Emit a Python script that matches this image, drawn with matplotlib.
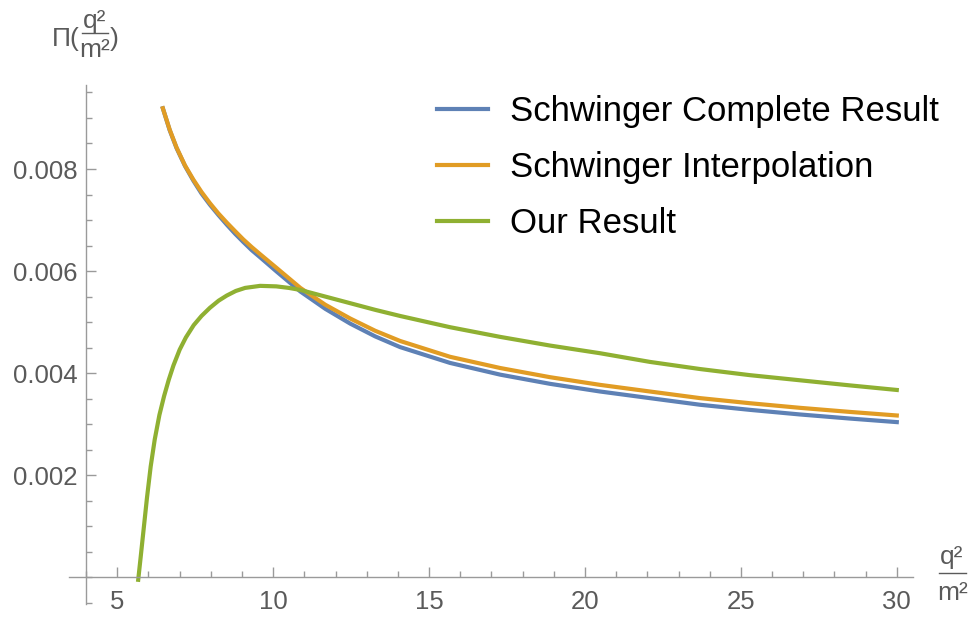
"""
Vacuum polarisation Pi(q^2/m^2): Schwinger complete result, Schwinger
interpolation and our result, drawn Mathematica-style (axes through origin).
"""

import matplotlib

matplotlib.use("Agg")

import matplotlib.pyplot as plt
from matplotlib.lines import Line2D
from matplotlib.ticker import MultipleLocator

plt.rcParams["font.family"] = ["Liberation Sans", "DejaVu Sans"]

# ---------------------------------------------------------------------------
# Data
# ---------------------------------------------------------------------------
x_schwinger = [6.46, 6.68, 6.90, 7.17, 7.44, 7.70, 7.97, 8.24, 8.51, 8.78,
               9.04, 9.31, 9.58, 10.11, 10.87, 11.67, 12.47, 13.27, 14.07,
               15.67, 17.28, 18.88, 20.48, 22.08, 23.69, 25.29, 26.89, 28.49,
               30.0]
y_complete = [0.00919, 0.00876, 0.00841, 0.00806, 0.00777, 0.00752, 0.00730,
              0.00710, 0.00691, 0.00673, 0.00657, 0.00641, 0.00627, 0.00599,
              0.00560, 0.00526, 0.00497, 0.00472, 0.00451, 0.00420, 0.00397,
              0.00379, 0.00364, 0.00351, 0.00338, 0.00328, 0.00319, 0.00311,
              0.00304]
y_interp = [0.00919, 0.00877, 0.00842, 0.00807, 0.00779, 0.00755, 0.00733,
            0.00713, 0.00695, 0.00678, 0.00662, 0.00647, 0.00633, 0.00606,
            0.00567, 0.00534, 0.00507, 0.00483, 0.00463, 0.00432, 0.00410,
            0.00392, 0.00377, 0.00364, 0.00351, 0.00341, 0.00332, 0.00324,
            0.00317]

x_ours = [5.67, 5.75, 5.83, 5.95, 6.07, 6.20, 6.35, 6.50, 6.65, 6.80, 7.00,
          7.20, 7.45, 7.70, 7.97, 8.25, 8.51, 8.80, 9.10, 9.58, 10.10, 10.50,
          10.87, 11.67, 12.47, 13.27, 14.07, 15.67, 17.28, 18.88, 20.48,
          22.08, 23.69, 25.29, 26.89, 28.49, 30.0]
y_ours = [-0.00005, 0.00040, 0.00086, 0.00155, 0.00217, 0.00270, 0.00318,
          0.00355, 0.00387, 0.00415, 0.00446, 0.00470, 0.00494, 0.00512,
          0.00528, 0.00542, 0.00552, 0.00561, 0.00567, 0.00571, 0.00570,
          0.00567, 0.00563, 0.00550, 0.00537, 0.00524, 0.00512, 0.00490,
          0.00471, 0.00454, 0.00439, 0.00422, 0.00408, 0.00396, 0.00386,
          0.00376, 0.00367]

labels = ["Schwinger Complete Result", "Schwinger Interpolation", "Our Result"]
colours = ["#5E81B5", "#E19C24", "#8FB032"]

AXIS_GREY = "#9a9a9a"
TEXT_GREY = "#5a5a5a"
W, H = 972, 619


def fx(px):
    return px / W


def fy(py):
    return 1 - py / H


# ---------------------------------------------------------------------------
# Figure
# ---------------------------------------------------------------------------
fig = plt.figure(figsize=(9.72, 6.19), dpi=100)
ax = fig.add_axes([0.0713, 0.0246, 0.868, 0.8384])

ax.plot(x_schwinger, y_complete, color=colours[0], lw=3.0, label=labels[0])
ax.plot(x_schwinger, y_interp, color=colours[1], lw=3.0, label=labels[1])
ax.plot(x_ours, y_ours, color=colours[2], lw=3.0, label=labels[2])

ax.set_xlim(3.46, 30.52)
ax.set_ylim(-0.00052, 0.00965)

# Mathematica-style axes crossing at (4, 0)
for side in ("top", "right"):
    ax.spines[side].set_visible(False)
ax.spines["left"].set_position(("data", 4))
ax.spines["bottom"].set_position(("data", 0))
for side in ("left", "bottom"):
    ax.spines[side].set_color(AXIS_GREY)
    ax.spines[side].set_linewidth(1.0)

ax.xaxis.set_minor_locator(MultipleLocator(1))
ax.yaxis.set_minor_locator(MultipleLocator(0.0005))
ax.set_xticks([5, 10, 15, 20, 25, 30])
ax.set_xticklabels(["5", "10", "15", "20", "25", "30"])
ax.set_yticks([0.002, 0.004, 0.006, 0.008])
ax.set_yticklabels(["0.002", "0.004", "0.006", "0.008"])

ax.tick_params(which="both", direction="in", color=AXIS_GREY,
               labelcolor=TEXT_GREY, labelsize=18.5, width=1.0)
ax.tick_params(which="major", length=7)
ax.tick_params(which="minor", length=4)
ax.tick_params(axis="x", which="major", pad=9)
ax.tick_params(axis="y", which="major", pad=6)

# y label: Pi( q^2 / m^2 )
lab = dict(color=TEXT_GREY, fontsize=19, ha="center", va="center")
fig.text(fx(66), fy(39), "Π(", **lab)
fig.text(fx(95), fy(21), "q²", **lab)
fig.text(fx(95), fy(50), "m²", **lab)
fig.text(fx(114), fy(39), ")", **lab)
fig.add_artist(Line2D([fx(82), fx(108)], [fy(33), fy(33)],
                      color=TEXT_GREY, lw=1.0))

# x label: q^2 / m^2
fig.text(fx(952), fy(557), "q²", **lab)
fig.text(fx(953), fy(593), "m²", **lab)
fig.add_artist(Line2D([fx(939), fx(966)], [fy(573), fy(573)],
                      color=TEXT_GREY, lw=1.0))

ax.legend(loc="upper left", bbox_to_anchor=(fx(437), fy(95)),
          bbox_transform=fig.transFigure, frameon=False, fontsize=25,
          handlelength=1.47, handletextpad=0.63, labelspacing=0.66,
          borderpad=0, borderaxespad=0)

fig.savefig("out.png", dpi=100)
plt.close(fig)
